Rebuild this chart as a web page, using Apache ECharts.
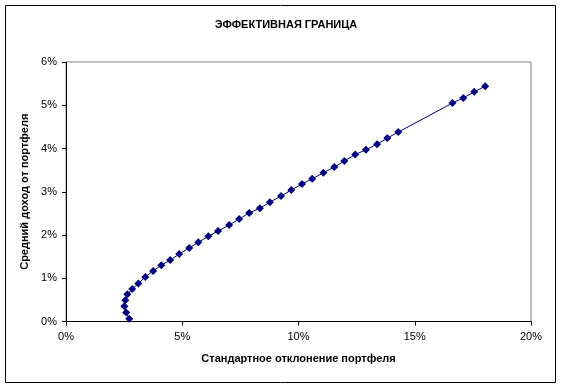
<!DOCTYPE html>
<html>
<head>
<meta charset="utf-8">
<script src="https://cdn.jsdelivr.net/npm/echarts@6/dist/echarts.min.js"></script>
<style>
html,body{margin:0;padding:0;background:#fff;}
#chart{width:561px;height:389px;}
</style>
</head>
<body>
<div id="chart"></div>
<script>
const titleText = 'ЭФФЕКТИВНАЯ ГРАНИЦА';
const xAxisName = 'Стандартное отклонение портфеля';
const yAxisName = 'Средний доход от портфеля';
// standard deviation of portfolio, %
const stdDev = [2.72, 2.59, 2.51, 2.55, 2.64, 2.85, 3.11, 3.41, 3.75, 4.10, 4.48, 4.87, 5.30, 5.69, 6.12, 6.54, 7.02, 7.45, 7.88, 8.34, 8.77, 9.25, 9.69, 10.15, 10.59, 11.07, 11.54, 11.97, 12.44, 12.90, 13.38, 13.82, 14.29, 16.62, 17.09, 17.56, 18.03];
// mean return of portfolio, %
const meanReturn = [0.065, 0.21, 0.35, 0.49, 0.63, 0.75, 0.88, 1.03, 1.17, 1.30, 1.42, 1.56, 1.70, 1.83, 1.97, 2.09, 2.23, 2.37, 2.51, 2.62, 2.76, 2.90, 3.04, 3.18, 3.30, 3.44, 3.57, 3.71, 3.86, 3.97, 4.10, 4.24, 4.38, 5.05, 5.17, 5.31, 5.44];
const xTicks = {min: 0, max: 20, interval: 5};
const yTicks = {min: 0, max: 6, interval: 1};

const data = stdDev.map((x, i) => [x, meanReturn[i]]);
const chart = echarts.init(document.getElementById('chart'), null, {renderer: 'canvas'});
const font = 'Liberation Sans, Arial, sans-serif';
chart.setOption({
  animation: false,
  backgroundColor: '#fff',
  title: {
    text: titleText, left: 281, top: 14, textAlign: 'center',
    textStyle: {fontFamily: font, fontSize: 11, fontWeight: 'bold', color: '#000'}
  },
  graphic: [{
    type: 'rect', shape: {x: 5.5, y: 5.5, width: 550, height: 377},
    style: {fill: null, stroke: '#000', lineWidth: 1}, silent: true
  }],
  grid: {left: 66, top: 62, right: 30, bottom: 67.5, show: true, borderColor: '#808080', borderWidth: 1, backgroundColor: 'transparent'},
  xAxis: {
    type: 'value', min: xTicks.min, max: xTicks.max, interval: xTicks.interval,
    name: xAxisName, nameLocation: 'middle', nameGap: 32,
    nameTextStyle: {fontFamily: font, fontSize: 11, fontWeight: 'bold', color: '#000'},
    axisLine: {show: true, lineStyle: {color: '#000', width: 1}},
    axisTick: {show: true, length: 4, inside: false, lineStyle: {color: '#000'}},
    axisLabel: {formatter: '{value}%', fontFamily: font, fontSize: 11, color: '#000', margin: 10},
    splitLine: {show: false}
  },
  yAxis: {
    type: 'value', min: yTicks.min, max: yTicks.max, interval: yTicks.interval,
    name: yAxisName, nameLocation: 'middle', nameGap: 34,
    nameTextStyle: {fontFamily: font, fontSize: 11, fontWeight: 'bold', color: '#000'},
    axisLine: {show: true, lineStyle: {color: '#000', width: 1}},
    axisTick: {show: true, length: 4, inside: false, lineStyle: {color: '#000'}},
    axisLabel: {formatter: '{value}%', fontFamily: font, fontSize: 11, color: '#000', margin: 9},
    splitLine: {show: false}
  },
  series: [{
    type: 'line', data: data,
    symbol: 'diamond', symbolSize: 8,
    itemStyle: {color: '#000080'},
    lineStyle: {color: '#000080', width: 1},
    z: 3
  }]
});
</script>
</body>
</html>
